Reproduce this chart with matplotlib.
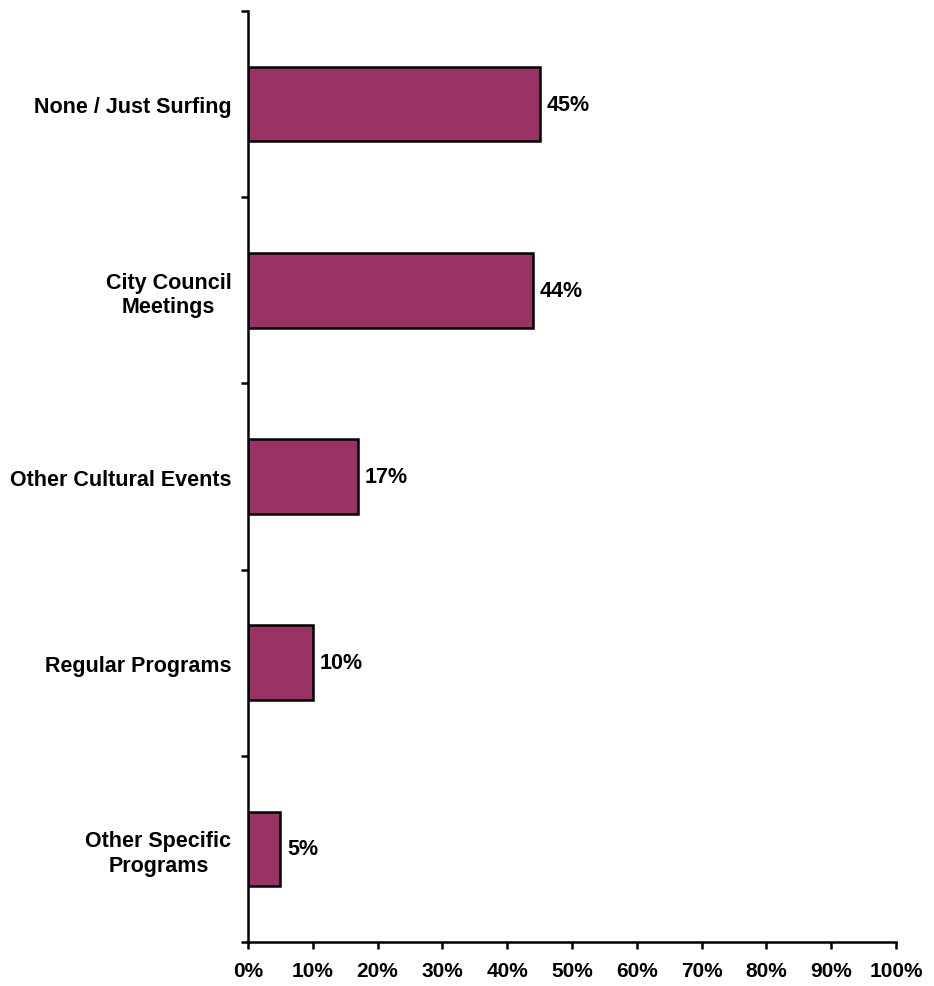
import matplotlib
matplotlib.use("Agg")
import matplotlib.pyplot as plt
from matplotlib.ticker import FixedLocator

# --- data ---
categories = ["None / Just Surfing", "City Council\nMeetings", "Other Cultural Events",
              "Regular Programs", "Other Specific\nPrograms"]
values = [45, 44, 17, 10, 5]
x_ticks = list(range(0, 101, 10))
x_tick_labels = [f"{t}%" for t in x_ticks]

BAR_COLOR = "#993366"
FS = 15.5

plt.rcParams["font.family"] = ["Liberation Sans", "DejaVu Sans"]
plt.rcParams["font.weight"] = "bold"

fig = plt.figure(figsize=(9.34, 9.87), dpi=100)
ax = fig.add_axes([248 / 934, 44 / 987, 648 / 934, 931 / 987])

ypos = list(range(len(categories)))
ax.barh(ypos, values, height=0.4, color=BAR_COLOR, edgecolor="black", linewidth=1.8)

for y, v in zip(ypos, values):
    ax.annotate(f"{v}%", (v, y), xytext=(5, 0), textcoords="offset points",
                va="center", ha="left", fontsize=FS, fontweight="bold")

ax.set_xlim(0, 100)
ax.set_ylim(len(categories) - 0.5, -0.5)

ax.set_xticks(x_ticks)
ax.set_xticklabels(x_tick_labels, fontsize=FS - 0.5, fontweight="bold")

# category labels at bar centres, tick marks at boundaries
ax.yaxis.set_major_locator(FixedLocator([i - 0.5 for i in range(len(categories) + 1)]))
ax.yaxis.set_major_formatter(plt.NullFormatter())
ax.yaxis.set_minor_locator(FixedLocator(ypos))
ax.set_yticklabels(categories, minor=True, fontsize=FS, fontweight="bold",
                   ha="right", multialignment="center")
ax.tick_params(axis="y", which="minor", length=0, pad=12)
ax.tick_params(axis="y", which="major", length=5, width=1.8, direction="out")
ax.tick_params(axis="x", length=5, width=1.8, direction="out", pad=9)

for s in ["top", "right"]:
    ax.spines[s].set_visible(False)
for s in ["left", "bottom"]:
    ax.spines[s].set_linewidth(1.8)

fig.savefig("out.png", dpi=100)
